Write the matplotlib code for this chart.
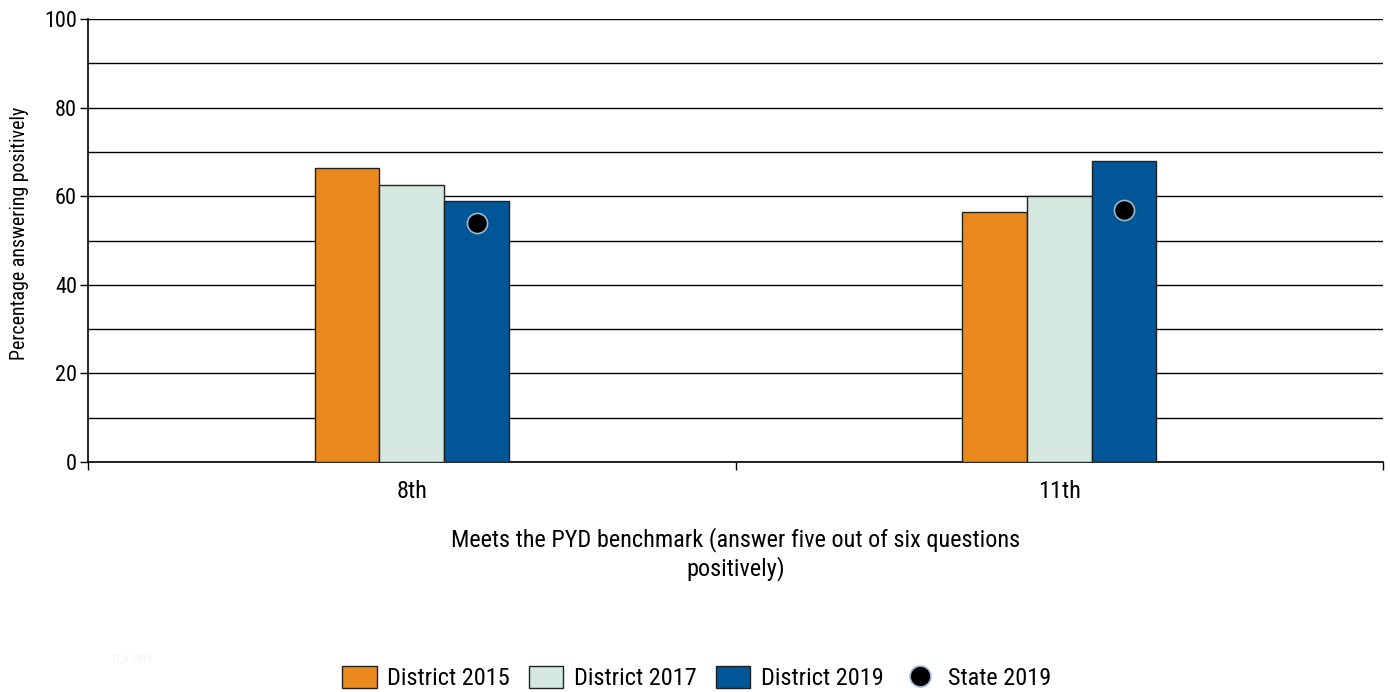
import matplotlib
matplotlib.use("Agg")
import matplotlib.pyplot as plt
import numpy as np
from matplotlib.lines import Line2D
from matplotlib.patches import Patch
from matplotlib import font_manager

avail = {f.name for f in font_manager.fontManager.ttflist}
fams = [f for f in ['Roboto Condensed', 'Liberation Sans Narrow', 'Liberation Sans'] if f in avail] + ['DejaVu Sans']
plt.rcParams['font.family'] = fams

categories = ["8th", "11th"]
district_2015 = [66.4, 56.4]
district_2017 = [62.5, 60.0]
district_2019 = [58.9, 67.9]
state_2019 = [54.0, 56.9]
series_names = ["District 2015", "District 2017", "District 2019", "State 2019"]
colors = ["#EA891E", "#D5E8DF", "#005696"]

fig = plt.figure(figsize=(13.9, 6.92), dpi=100)
ax = fig.add_axes([88/1390, (692-462)/692, (1383-88)/1390, (462-19)/692])

x = np.arange(len(categories))
w = 0.1
for i, (vals, c) in enumerate(zip([district_2015, district_2017, district_2019], colors)):
    ax.bar(x + (i - 1) * w, vals, width=w, color=c, edgecolor="#222222", linewidth=1.0, zorder=3)
ax.scatter(x + w, state_2019, s=210, color="black", edgecolors="#9DB8D0", linewidths=1.2, zorder=4)

ax.set_xlim(-0.5, 1.5)
ax.set_ylim(0, 100)
ax.set_yticks(range(0, 101, 20))
ax.set_yticks(range(0, 101, 10), minor=True)
ax.yaxis.grid(True, which="both", color="black", linewidth=1.0, zorder=0)
ax.tick_params(axis="y", which="major", length=6, width=1, labelsize=16, direction="out", pad=2)
ax.tick_params(axis="y", which="minor", length=0)
ax.set_xticks([-0.5, 0.5, 1.5])
ax.set_xticklabels([])
ax.set_xticks(x, minor=True)
ax.set_xticklabels(categories, minor=True)
ax.tick_params(axis="x", which="major", length=6, width=1, direction="out")
ax.tick_params(axis="x", which="minor", length=0, labelsize=17.5, pad=13)
for s in ["top", "right"]:
    ax.spines[s].set_visible(False)
ax.spines["left"].set_linewidth(1.2)
ax.spines["bottom"].set_linewidth(1.2)
ax.set_ylabel("Percentage answering positively", fontsize=14.3)
ax.yaxis.set_label_coords(-0.0455, 0.515)
ax.set_xlabel("Meets the PYD benchmark (answer five out of six questions\npositively)", fontsize=17.5,
              labelpad=17, linespacing=1.25)

handles = [Patch(facecolor=c, edgecolor="#222222", linewidth=1.0) for c in colors]
handles.append(Line2D([], [], linestyle="none", marker="o", markersize=15, markerfacecolor="black",
                      markeredgecolor="#9DB8D0", markeredgewidth=1.2))
fig.legend(handles, series_names, loc="center", bbox_to_anchor=(0.501, 1 - 678/692), ncol=4,
           frameon=False, fontsize=17.5, handlelength=1.42, handleheight=1.0, columnspacing=0.8,
           handletextpad=0.42)
fig.text(110/1390, 1 - 658/692, "11_5_2019", fontsize=7, color="#F4F4F4", va="center")

fig.savefig("out.png", dpi=100)
